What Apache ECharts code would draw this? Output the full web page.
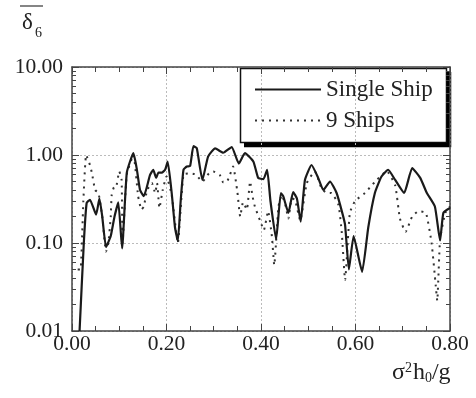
<!DOCTYPE html>
<html>
<head>
<meta charset="utf-8">
<script src="https://cdn.jsdelivr.net/npm/echarts@6/dist/echarts.min.js"></script>
<style>
  html, body { margin: 0; padding: 0; background: #fff; }
  #chart { width: 476px; height: 398px; }
</style>
</head>
<body>
<div id="chart"></div>
<script>
// sigma^2 h0 / g  vs  mean delta_6 (log scale)
const singleShip = [
  [0.016, 0.01], [0.025, 0.1], [0.031, 0.285], [0.038, 0.31], [0.051, 0.21], [0.058, 0.32],
  [0.064, 0.2], [0.072, 0.09], [0.082, 0.12], [0.09, 0.2], [0.098, 0.29], [0.106, 0.087],
  [0.116, 0.63], [0.13, 1.05], [0.137, 0.7], [0.144, 0.4], [0.152, 0.34], [0.165, 0.59],
  [0.172, 0.68], [0.178, 0.55], [0.183, 0.63], [0.19, 0.63], [0.197, 0.68], [0.2025, 0.84],
  [0.211, 0.37], [0.218, 0.15], [0.224, 0.105], [0.23, 0.3], [0.236, 0.68], [0.243, 0.74],
  [0.25, 0.75], [0.257, 1.26], [0.264, 1.2], [0.276, 0.52], [0.288, 0.96], [0.303, 1.19],
  [0.32, 1.06], [0.338, 1.23], [0.353, 0.8], [0.366, 1.05], [0.384, 0.84], [0.394, 0.55],
  [0.405, 0.53], [0.413, 0.68], [0.42, 0.3], [0.432, 0.11], [0.442, 0.37], [0.447, 0.34],
  [0.458, 0.22], [0.468, 0.38], [0.476, 0.32], [0.484, 0.175], [0.493, 0.52], [0.507, 0.77],
  [0.521, 0.55], [0.532, 0.4], [0.546, 0.5], [0.56, 0.37], [0.572, 0.22], [0.578, 0.16],
  [0.586, 0.05], [0.596, 0.12], [0.614, 0.047], [0.627, 0.15], [0.641, 0.37], [0.655, 0.57],
  [0.669, 0.68], [0.684, 0.52], [0.703, 0.37], [0.72, 0.71], [0.737, 0.55], [0.751, 0.37],
  [0.768, 0.26], [0.779, 0.107], [0.786, 0.22], [0.8, 0.25]
]

const nineShips = [
  [0.012, 0.05], [0.018, 0.05], [0.024, 0.3], [0.03, 1.0], [0.038, 0.77], [0.042, 0.63],
  [0.049, 0.4], [0.056, 0.37], [0.064, 0.2], [0.072, 0.08], [0.077, 0.1], [0.082, 0.2],
  [0.084, 0.35], [0.089, 0.43], [0.093, 0.43], [0.1, 0.65], [0.105, 0.52], [0.107, 0.1],
  [0.116, 0.6], [0.13, 1.0], [0.14, 0.34], [0.147, 0.24], [0.152, 0.26], [0.159, 0.4],
  [0.169, 0.48], [0.176, 0.37], [0.18, 0.48], [0.185, 0.25], [0.192, 0.4], [0.2, 0.57],
  [0.211, 0.35], [0.224, 0.1], [0.236, 0.6], [0.25, 0.62], [0.262, 0.6], [0.276, 0.5],
  [0.29, 0.62], [0.299, 0.65], [0.313, 0.59], [0.32, 0.49], [0.327, 0.49], [0.334, 0.59],
  [0.341, 0.74], [0.35, 0.38], [0.356, 0.2], [0.362, 0.29], [0.37, 0.24], [0.377, 0.5],
  [0.382, 0.34], [0.387, 0.26], [0.398, 0.18], [0.406, 0.14], [0.415, 0.23], [0.423, 0.12],
  [0.428, 0.056], [0.437, 0.26], [0.444, 0.35], [0.451, 0.28], [0.458, 0.19], [0.465, 0.32],
  [0.472, 0.31], [0.483, 0.18], [0.497, 0.48], [0.514, 0.65], [0.528, 0.42], [0.539, 0.37],
  [0.549, 0.37], [0.564, 0.27], [0.571, 0.13], [0.578, 0.038], [0.588, 0.22], [0.599, 0.3],
  [0.62, 0.37], [0.634, 0.45], [0.645, 0.52], [0.666, 0.66], [0.684, 0.45], [0.694, 0.19],
  [0.706, 0.134], [0.72, 0.2], [0.734, 0.23], [0.749, 0.22], [0.761, 0.1], [0.77, 0.032],
  [0.773, 0.022], [0.779, 0.11], [0.79, 0.22], [0.8, 0.26]
]

const seriesNames = ['Single Ship', '9 Ships']
const yMajorTicks = [0.01, 0.1, 1, 10]
const yMinorTicks = [
  0.02, 0.03, 0.04, 0.05, 0.06, 0.07, 0.08, 0.09,
  0.2, 0.3, 0.4, 0.5, 0.6, 0.7, 0.8, 0.9,
  2, 3, 4, 5, 6, 7, 8, 9
]

const FONT = '"Liberation Serif", "DejaVu Serif", serif'
const INK = '#222'
const GRIDLINE = { show: true, lineStyle: { color: '#bbb', type: [2, 2], width: 1 } }

const chart = echarts.init(document.getElementById('chart'))

function logAxis(position, withLabels, ticks, tickLen, splitLine) {
  return {
    type: 'log',
    logBase: 10,
    min: 0.01,
    max: 10,
    position: position,
    axisLine: { show: withLabels, lineStyle: { color: '#444', width: 1.5 } },
    axisTick: { show: true, inside: true, length: tickLen, customValues: ticks, lineStyle: { color: '#444' } },
    axisLabel: {
      show: withLabels && position === 'left',
      customValues: yMajorTicks,
      formatter: (v) => Number(v).toFixed(2),
      fontFamily: FONT, fontSize: 21.5, color: INK, margin: 9
    },
    splitLine: splitLine ? { show: true, lineStyle: GRIDLINE.lineStyle } : { show: false },
    minorTick: { show: false },
    minorSplitLine: { show: false }
  }
}

function linAxis(position, withLabels) {
  return {
    type: 'value',
    min: 0,
    max: 0.8,
    interval: 0.2,
    position: position,
    axisLine: { show: true, lineStyle: { color: '#444', width: 1.5 } },
    axisTick: { show: true, inside: true, length: 7, lineStyle: { color: '#444' } },
    minorTick: { show: true, splitNumber: 4, length: 5, lineStyle: { color: '#444' } },
    axisLabel: {
      show: withLabels,
      formatter: (v) => v.toFixed(2),
      fontFamily: FONT, fontSize: 21.5, color: INK, margin: 2
    },
    splitLine: withLabels ? GRIDLINE : { show: false }
  }
}

chart.setOption({
  animation: false,
  backgroundColor: '#fff',
  grid: { left: 72, right: 26, top: 67, bottom: 67 },
  xAxis: [linAxis('bottom', true), linAxis('top', false)],
  yAxis: [
    logAxis('left', true, yMajorTicks, 7, true),
    logAxis('left', false, yMinorTicks, 4, false),
    logAxis('right', true, yMajorTicks, 7, false),
    logAxis('right', false, yMinorTicks, 4, false)
  ],
  legend: {
    data: seriesNames,
    orient: 'vertical',
    left: 241,
    top: 68,
    z: 20,
    padding: [10, 12, 10, 13],
    itemGap: 8,
    itemWidth: 66,
    itemHeight: 21,
    itemStyle: { opacity: 0 },
    textStyle: { fontFamily: FONT, fontSize: 23, color: INK, padding: [0, 0, 0, 0] }
  },
  series: [
    {
      name: seriesNames[0],
      type: 'line',
      data: singleShip,
      symbol: 'none',
      smooth: 0.15,
      lineStyle: { color: '#1a1a1a', width: 2.2 },
      itemStyle: { color: '#1a1a1a' },
      z: 3
    },
    {
      name: seriesNames[1],
      type: 'line',
      data: nineShips,
      symbol: 'none',
      smooth: 0.15,
      lineStyle: { color: '#333', width: 2, type: [2, 5] },
      itemStyle: { color: '#333' },
      z: 2
    }
  ],
  graphic: {
    elements: [
      // legend frame with a hard drop shadow (shadow drawn as a thick polyline)
      {
        type: 'group', z: 10,
        children: [
          { type: 'rect', shape: { x: 240.5, y: 68.5, width: 206, height: 74 }, style: { fill: '#fff', stroke: '#111', lineWidth: 1.5 } },
          { type: 'polyline', shape: { points: [[449, 72], [449, 145], [244, 145]] }, style: { stroke: '#000', lineWidth: 4.5, fill: null } }
        ]
      },
      // axis names
      { type: 'line', shape: { x1: 20, y1: 6, x2: 43, y2: 6 }, style: { stroke: '#333', lineWidth: 1.2 } },
      { type: 'text', left: 22, top: 11, style: { text: 'δ', font: '23px ' + FONT, fill: INK } },
      { type: 'text', left: 35, top: 26, style: { text: '6', font: '14px ' + FONT, fill: INK } },
      {
        type: 'text', left: 392, top: 361,
        style: {
          text: 'σ{sup|2}h{sub|0}/g',
          font: '24px ' + FONT,
          fill: INK,
          rich: {
            sup: { fontSize: 14, fontFamily: FONT, fill: INK, verticalAlign: 'top', padding: [0, 1, 10, 0] },
            sub: { fontSize: 14, fontFamily: FONT, fill: INK, verticalAlign: 'bottom', padding: [10, 0, 0, 0] }
          }
        }
      }
    ]
  }
})
</script>
</body>
</html>
